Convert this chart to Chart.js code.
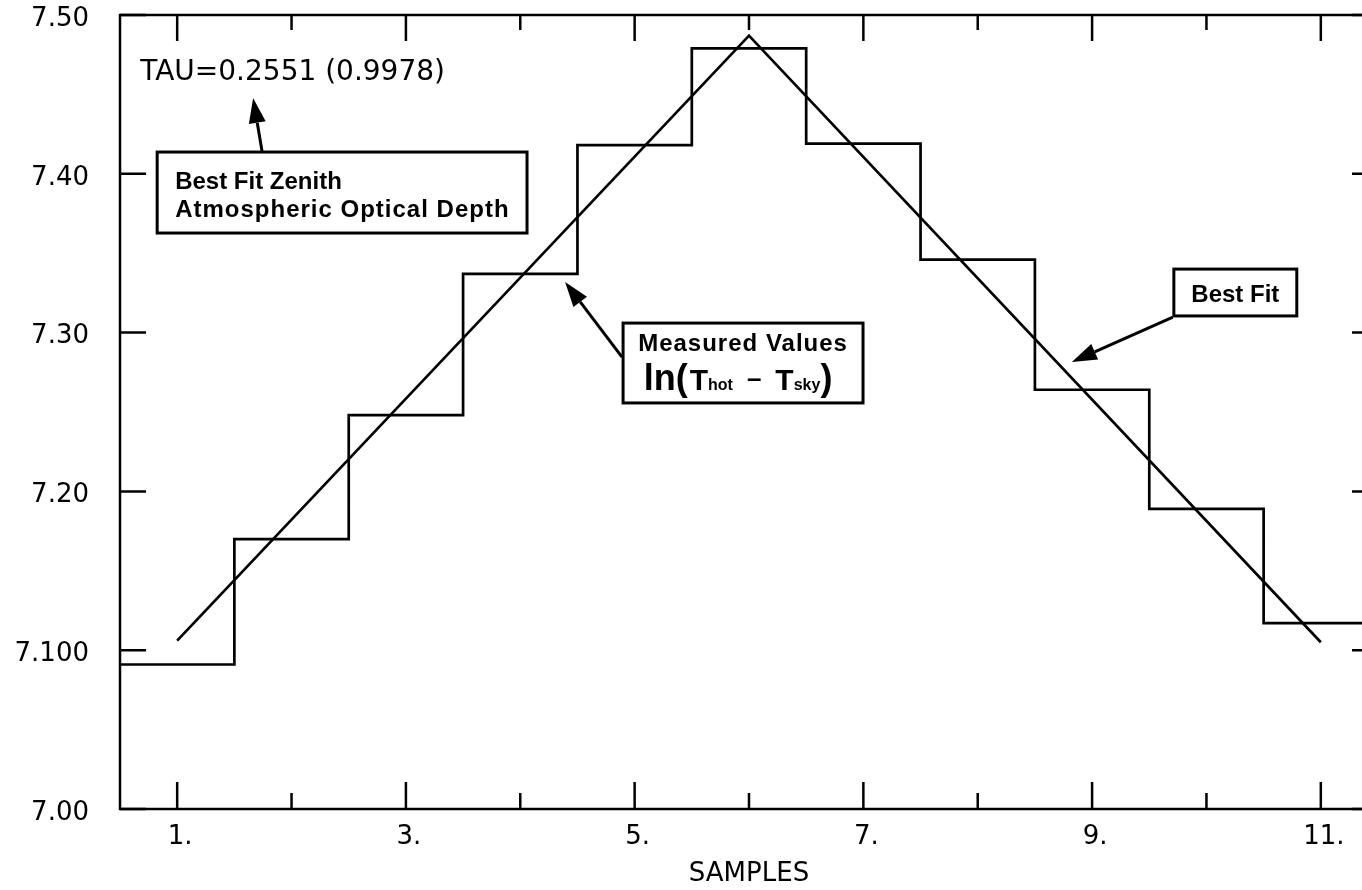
<!DOCTYPE html>
<html>
<head>
<meta charset="utf-8">
<script src="https://cdn.jsdelivr.net/npm/chart.js@4.4.1/dist/chart.umd.min.js"></script>
<style>
  html, body { margin: 0; padding: 0; background: #fff; overflow: hidden; }
  canvas { display: block; }
</style>
</head>
<body>
<canvas id="chart" width="1400" height="890"></canvas>
<script>
// Sample numbers along the scan
const samples = [1, 2, 3, 4, 5, 6, 7, 8, 9, 10, 11];
// Measured ln(Thot - Tsky), one value per sample
const measuredLn = [7.091, 7.170, 7.248, 7.337, 7.418, 7.479, 7.419, 7.346, 7.264, 7.189, 7.117];
// Best-fit model: end points and apex
const fitSamples = [1, 6, 11];
const fitLn = [7.106, 7.487, 7.105];
// Axis tick labels
const xTickLabels = ['1.', '', '3.', '', '5.', '', '7.', '', '9.', '', '11.'];
const yTickValues = [7.00, 7.10, 7.20, 7.30, 7.40, 7.50];
const yTickLabels = ['7.00', '7.100', '7.20', '7.30', '7.40', '7.50'];
const tauText = 'TAU=0.2551 (0.9978)';

// Each measurement is held flat across its sample bin (half a sample on each side)
const stepPoints = [
  { x: samples[0] - 0.5, y: measuredLn[0] },
  ...samples.map((s, i) => ({ x: s, y: measuredLn[i] })),
  { x: samples[samples.length - 1] + 0.5, y: measuredLn[measuredLn.length - 1] }
];
const fitPoints = fitSamples.map((s, i) => ({ x: s, y: fitLn[i] }));

// Callout layout, in axis units
const callouts = {
  tau: { x: 0.677, y: 7.4635 },
  zenith: { x0: 0.825, x1: 4.059, y0: 7.4137, y1: 7.3627,
            arrowFrom: { x: 1.743, y: 7.4137 }, arrowTo: { x: 1.664, y: 7.4477 } },
  measured: { x0: 4.899, x1: 6.997, y0: 7.306, y1: 7.2557,
              arrowFrom: { x: 4.890, y: 7.2846 }, arrowTo: { x: 4.392, y: 7.3319 } },
  fit: { x0: 9.715, x1: 10.790, y0: 7.340, y1: 7.3105,
         arrowFrom: { x: 9.706, y: 7.3098 }, arrowTo: { x: 8.823, y: 7.2815 } }
};

const BOLD = '"Liberation Sans", Arial, sans-serif';
const PLAIN = '"DejaVu Sans", sans-serif';

// Closed frame with inward tick marks on all four sides
const framePlugin = {
  id: 'frame',
  afterDatasetsDraw(chart) {
    const { ctx, chartArea: a, scales: { x, y } } = chart;
    ctx.save();
    ctx.strokeStyle = '#000';
    ctx.lineWidth = 2.5;
    ctx.lineCap = 'square';
    ctx.strokeRect(a.left, a.top, a.right - a.left, a.bottom - a.top);
    ctx.beginPath();
    ctx.lineCap = 'butt';
    x.ticks.forEach((t, i) => {
      const px = x.getPixelForValue(t.value);
      const major = xTickLabels[i] !== '';
      ctx.moveTo(px, a.bottom); ctx.lineTo(px, a.bottom - (major ? 27 : 16));
      ctx.moveTo(px, a.top); ctx.lineTo(px, a.top + (major ? 26 : 15));
    });
    y.ticks.forEach(t => {
      const py = y.getPixelForValue(t.value);
      ctx.moveTo(a.left, py); ctx.lineTo(a.left + 26, py);
      ctx.moveTo(a.right, py); ctx.lineTo(a.right - 26, py);
    });
    ctx.stroke();
    ctx.restore();
  }
};

function drawArrow(ctx, x1, y1, x2, y2) {
  const ang = Math.atan2(y2 - y1, x2 - x1);
  const len = 25, half = 8.5;
  const bx = x2 - len * Math.cos(ang), by = y2 - len * Math.sin(ang);
  ctx.beginPath();
  ctx.moveTo(x1, y1);
  ctx.lineTo(bx, by);
  ctx.stroke();
  ctx.beginPath();
  ctx.moveTo(x2, y2);
  ctx.lineTo(bx + half * Math.sin(ang), by - half * Math.cos(ang));
  ctx.lineTo(bx - half * Math.sin(ang), by + half * Math.cos(ang));
  ctx.closePath();
  ctx.fill();
}

function spaced(ctx, px) {
  if ('letterSpacing' in ctx) ctx.letterSpacing = px + 'px';
}

// Text callouts, boxes and arrows
const calloutPlugin = {
  id: 'callouts',
  afterDraw(chart) {
    const { ctx, scales: { x, y } } = chart;
    const X = v => x.getPixelForValue(v);
    const Y = v => y.getPixelForValue(v);
    const box = c => ({ l: X(c.x0), r: X(c.x1), t: Y(c.y0), b: Y(c.y1) });
    ctx.save();
    ctx.fillStyle = '#000';
    ctx.strokeStyle = '#000';

    // Optical depth result
    ctx.font = '28px ' + PLAIN;
    ctx.textAlign = 'left';
    ctx.textBaseline = 'middle';
    ctx.fillText(tauText, X(callouts.tau.x), Y(callouts.tau.y));

    ctx.lineWidth = 3;
    ctx.textBaseline = 'alphabetic';

    // "Best Fit Zenith" box
    let c = callouts.zenith, b = box(c);
    ctx.strokeRect(b.l, b.t, b.r - b.l, b.b - b.t);
    ctx.font = 'bold 24px ' + BOLD;
    spaced(ctx, 0);
    ctx.fillText('Best Fit Zenith', b.l + 18, b.t + 37);
    spaced(ctx, 1);
    ctx.fillText('Atmospheric Optical Depth', b.l + 18, b.t + 65);
    spaced(ctx, 0);
    drawArrow(ctx, X(c.arrowFrom.x), Y(c.arrowFrom.y), X(c.arrowTo.x), Y(c.arrowTo.y));

    // "Measured Values" box
    c = callouts.measured; b = box(c);
    ctx.strokeRect(b.l, b.t, b.r - b.l, b.b - b.t);
    const cx = (b.l + b.r) / 2;
    ctx.textAlign = 'center';
    ctx.font = 'bold 24px ' + BOLD;
    spaced(ctx, 1);
    ctx.fillText('Measured Values', cx, b.t + 28);
    spaced(ctx, 0);
    // ln( T_hot - T_sky )
    const parts = [
      { t: 'ln(', f: 'bold 36px ' + BOLD, dy: 0, gap: 2 },
      { t: 'T', f: 'bold 30px ' + BOLD, dy: 0, gap: 0 },
      { t: 'hot', f: 'bold 16px ' + BOLD, dy: 0, gap: 14 },
      { t: '\u2013', f: 'bold 26px ' + BOLD, dy: -3, gap: 14 },
      { t: 'T', f: 'bold 30px ' + BOLD, dy: 0, gap: 0 },
      { t: 'sky', f: 'bold 16px ' + BOLD, dy: 0, gap: 0 },
      { t: ')', f: 'bold 36px ' + BOLD, dy: 0, gap: 0 }
    ];
    let total = 0;
    parts.forEach(p => { ctx.font = p.f; p.w = ctx.measureText(p.t).width; total += p.w + p.gap; });
    let px = cx - 5 - total / 2;
    ctx.textAlign = 'left';
    const base = b.t + 67;
    parts.forEach(p => { ctx.font = p.f; ctx.fillText(p.t, px, base + p.dy); px += p.w + p.gap; });
    drawArrow(ctx, X(c.arrowFrom.x), Y(c.arrowFrom.y), X(c.arrowTo.x), Y(c.arrowTo.y));

    // "Best Fit" box
    c = callouts.fit; b = box(c);
    ctx.strokeRect(b.l, b.t, b.r - b.l, b.b - b.t);
    ctx.textAlign = 'center';
    ctx.font = 'bold 24px ' + BOLD;
    ctx.fillText('Best Fit', (b.l + b.r) / 2, b.t + 33);
    drawArrow(ctx, X(c.arrowFrom.x), Y(c.arrowFrom.y), X(c.arrowTo.x), Y(c.arrowTo.y));

    ctx.restore();
  }
};

new Chart(document.getElementById('chart'), {
  type: 'line',
  data: {
    datasets: [
      { label: 'Measured', data: stepPoints, stepped: 'middle', borderColor: '#000',
        borderWidth: 2.7, pointRadius: 0, fill: false },
      { label: 'Best fit', data: fitPoints, borderColor: '#000', borderWidth: 2.7,
        pointRadius: 0, fill: false, tension: 0 }
    ]
  },
  options: {
    responsive: false,
    animation: false,
    events: [],
    layout: { padding: { top: 15, right: 22, left: 0, bottom: 0 } },
    plugins: { legend: { display: false }, tooltip: { enabled: false } },
    scales: {
      x: {
        type: 'linear', min: 0.5, max: 11.5,
        grid: { display: false, drawTicks: false },
        border: { display: false },
        afterBuildTicks: s => { s.ticks = samples.map(v => ({ value: v })); },
        afterFit: s => { s.height = 81; s.paddingLeft = 0; s.paddingRight = 0; },
        ticks: {
          autoSkip: false, maxRotation: 0, padding: 13, labelOffset: 3, color: '#000',
          font: { family: '"DejaVu Sans", sans-serif', size: 26 },
          callback: (v, i) => xTickLabels[i]
        },
        title: {
          display: true, text: 'SAMPLES', color: '#000',
          font: { family: '"DejaVu Sans", sans-serif', size: 26 },
          padding: { top: 0, bottom: 0 }
        }
      },
      y: {
        type: 'linear', min: 7.0, max: 7.5,
        grid: { display: false, drawTicks: false },
        border: { display: false },
        afterBuildTicks: s => { s.ticks = yTickValues.map(v => ({ value: v })); },
        afterFit: s => { s.width = 120; s.paddingTop = 0; s.paddingBottom = 0; },
        ticks: {
          padding: 31, labelOffset: 4, color: '#000',
          font: { family: '"DejaVu Sans", sans-serif', size: 26 },
          callback: (v, i) => yTickLabels[i]
        }
      }
    }
  },
  plugins: [framePlugin, calloutPlugin]
});
</script>
</body>
</html>
